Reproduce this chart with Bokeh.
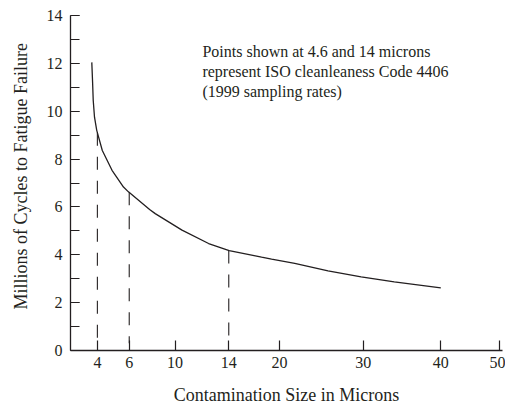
import numpy as np
from bokeh.plotting import figure
from bokeh.models import Range1d, FixedTicker, SingleIntervalTicker, Label, Title
from bokeh.embed import file_html
from bokeh.resources import INLINE

# Hand-drawn (non-linear) x scale: tick values and their positions along the axis
TICK_MICRONS = [4, 6, 10, 14, 20, 30, 40, 50]
TICK_POS = [27, 59, 105, 159, 210, 294, 372, 431]

# Curve: contamination size (microns) vs millions of cycles to fatigue failure
CURVE_MICRONS = [3.65, 3.70, 3.74, 3.82, 3.96, 4.31, 4.92, 5.64, 5.95, 7.78, 8.27,
                 10.52, 12.50, 14.05, 17.88, 19.06, 21.82, 25.80, 29.76, 34.01, 40.0]
CYCLES = [12.04, 11.20, 10.45, 9.75, 9.20, 8.36, 7.53, 6.83, 6.63, 5.89, 5.72,
          5.03, 4.47, 4.17, 3.90, 3.82, 3.64, 3.33, 3.08, 2.87, 2.62]

# ISO cleanliness points marked with dashed drop lines
MARK_MICRONS = [4, 6, 14]
DASH_BOTTOM = 0.3

X_TITLE = "Contamination Size in Microns"
Y_TITLE = "Millions of Cycles to Fatigue Failure"
ANNOTATION = ("Points shown at 4.6 and 14 microns\n"
              "represent ISO cleanleaness Code 4406\n"
              "(1999 sampling rates)")

INK = "#231f20"
FONT = "Liberation Serif"


def to_pos(microns):
    m = np.asarray(microns, dtype=float)
    pos = np.interp(m, TICK_MICRONS, TICK_POS)
    slope = (TICK_POS[1] - TICK_POS[0]) / (TICK_MICRONS[1] - TICK_MICRONS[0])
    lo = m < TICK_MICRONS[0]
    pos[lo] = TICK_POS[0] + (m[lo] - TICK_MICRONS[0]) * slope
    return pos


p = figure(width=505, height=407,
           x_range=Range1d(0, 434), y_range=Range1d(0, 14),
           output_backend="svg", toolbar_location=None,
           min_border_left=68, min_border_right=3,
           min_border_top=15, min_border_bottom=56)

p.xgrid.visible = False
p.ygrid.visible = False
p.outline_line_color = None
p.background_fill_color = "white"
p.border_fill_color = "white"

# curve
p.line(to_pos(CURVE_MICRONS), CYCLES, line_color=INK, line_width=1.3)

# dashed drop lines from the curve down to the axis
mark_pos = to_pos(MARK_MICRONS)
mark_top = np.interp(MARK_MICRONS, CURVE_MICRONS, CYCLES)
p.segment(x0=mark_pos, y0=mark_top, x1=mark_pos, y1=[DASH_BOTTOM] * len(MARK_MICRONS),
          line_color=INK, line_width=1.1, line_dash="13 11")

# x axis
xa = p.xaxis[0]
xa.ticker = FixedTicker(ticks=TICK_POS, minor_ticks=[])
xa.major_label_overrides = {pos: str(m) for pos, m in zip(TICK_POS, TICK_MICRONS)}
xa.major_tick_in = 10
xa.major_tick_out = 0
xa.minor_tick_in = 0
xa.minor_tick_out = 0
xa.major_label_standoff = 6
xa.axis_label = X_TITLE
xa.axis_label_standoff = 14
xa.axis_label_text_font = FONT
xa.axis_label_text_font_size = "18px"
xa.axis_label_text_font_style = "normal"
xa.axis_label_text_color = INK

# y axis
ya = p.yaxis[0]
ya.ticker = SingleIntervalTicker(interval=2, num_minor_ticks=2)
ya.major_tick_in = 9
ya.major_tick_out = 0
ya.minor_tick_in = 9
ya.minor_tick_out = 0
ya.major_label_standoff = 8

for ax in (xa, ya):
    ax.axis_line_color = INK
    ax.axis_line_width = 1.3
    ax.major_tick_line_color = INK
    ax.minor_tick_line_color = INK
    ax.major_tick_line_width = 1.2
    ax.minor_tick_line_width = 1.2
    ax.major_label_text_font = FONT
    ax.major_label_text_font_size = "16px"
    ax.major_label_text_color = INK

# y title as a side title so it can sit slightly above the frame centre
p.add_layout(Title(text=Y_TITLE, align="left", offset=41, standoff=21,
                   vertical_align="top",
                   text_font=FONT, text_font_size="18px", text_font_style="normal",
                   text_color=INK), "left")

p.add_layout(Label(x=132.5, y=12.86, text=ANNOTATION,
                   text_font=FONT, text_font_size="16px", text_color=INK,
                   text_align="left", text_baseline="top", text_line_height=1.17))

open("out.html", "w").write(file_html(p, INLINE))
